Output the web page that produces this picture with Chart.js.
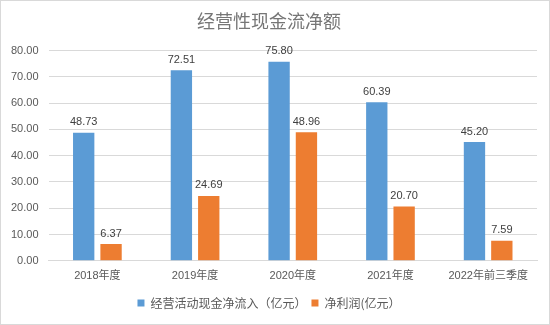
<!DOCTYPE html>
<html>
<head>
<meta charset="utf-8">
<script src="https://cdn.jsdelivr.net/npm/chart.js@4/dist/chart.umd.min.js"></script>
<style>
    html, body { margin: 0; padding: 0; background: #fff; }
    #wrap { width: 548px; height: 323px; border: 1px solid #d9d9d9; }
</style>
</head>
<body>
<div id="wrap"><canvas id="cashChart" width="548" height="323"></canvas></div>
<script>
// 年度与两组数值（亿元）
const years = ["2018年度", "2019年度", "2020年度", "2021年度", "2022年前三季度"];
const operatingCash = [48.73, 72.51, 75.80, 60.39, 45.20];
const netProfit = [6.37, 24.69, 48.96, 20.70, 7.59];
const seriesNames = ["经营活动现金净流入（亿元）", "净利润(亿元）"];

const fontFamily = "'Liberation Sans', 'Noto Sans CJK SC', sans-serif";

// 在柱子顶部写数值
const valueLabels = {
    id: "valueLabels",
    afterDatasetsDraw(chart) {
        const ctx = chart.ctx;
        ctx.save();
        ctx.font = "11px " + fontFamily;
        ctx.fillStyle = "#404040";
        ctx.textAlign = "center";
        ctx.textBaseline = "bottom";
        chart.data.datasets.forEach(function (ds, i) {
            chart.getDatasetMeta(i).data.forEach(function (bar, j) {
                ctx.fillText(ds.data[j].toFixed(2), bar.x, bar.y - 5);
            });
        });
        ctx.restore();
    }
};

const ctx = document.getElementById("cashChart");
const cashChart = new Chart(ctx, {
    type: "bar",
    data: {
        labels: years,
        datasets: [{
            label: seriesNames[0],
            data: operatingCash,
            backgroundColor: "#5B9BD5",
            barPercentage: 0.78,
            categoryPercentage: 0.56
        }, {
            label: seriesNames[1],
            data: netProfit,
            backgroundColor: "#ED7D31",
            barPercentage: 0.78,
            categoryPercentage: 0.56
        }]
    },
    options: {
        responsive: false,
        animation: false,
        layout: { padding: { left: 0, right: 12, top: 0, bottom: 5 } },
        plugins: {
            title: {
                display: true,
                text: "经营性现金流净额",
                color: "#767676",
                font: { family: "'Noto Sans CJK SC', sans-serif", size: 18, weight: "normal" },
                padding: { top: 9, bottom: 19 }
            },
            legend: {
                position: "bottom",
                labels: {
                    color: "#595959",
                    font: { family: "'Noto Sans CJK SC', sans-serif", size: 12 },
                    boxWidth: 7,
                    boxHeight: 7,
                    padding: 5
                }
            },
            tooltip: { enabled: false }
        },
        scales: {
            x: {
                grid: { display: false, drawTicks: false },
                border: { color: "#d9d9d9" },
                ticks: {
                    color: "#595959",
                    font: { family: fontFamily, size: 11 },
                    padding: 9
                }
            },
            y: {
                min: 0,
                max: 80,
                grid: { color: "#d9d9d9", drawTicks: false },
                border: { display: false },
                ticks: {
                    stepSize: 10,
                    color: "#595959",
                    font: { family: fontFamily, size: 11 },
                    padding: 10,
                    callback: function (v) { return v.toFixed(2); }
                }
            }
        }
    },
    plugins: [valueLabels]
});
</script>
</body>
</html>
